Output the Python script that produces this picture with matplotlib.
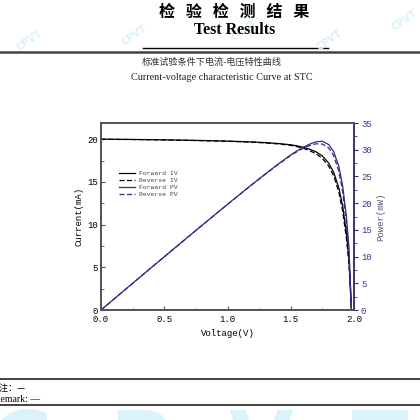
import matplotlib
matplotlib.use("Agg")
import matplotlib.pyplot as plt
from matplotlib.lines import Line2D
from matplotlib.ticker import MultipleLocator

# ---- data --------------------------------------------------------------
volt = [0.0, 0.2, 0.4, 0.6, 0.8, 1.0, 1.2, 1.3, 1.4, 1.5, 1.55, 1.6, 1.65,
        1.7, 1.75, 1.8, 1.84, 1.88, 1.91, 1.94, 1.96, 1.98]
i_fwd = [20.0, 19.98, 19.95, 19.9, 19.85, 19.78, 19.68, 19.6, 19.5, 19.35, 19.22,
         19.05, 18.82, 18.52, 18.05, 17.2, 16.1, 14.3, 12.2, 9.0, 6.0, 0.0]
i_rev = [20.0, 19.97, 19.94, 19.89, 19.83, 19.76, 19.65, 19.56, 19.45, 19.28, 19.13,
         18.93, 18.65, 18.3, 17.75, 16.85, 15.7, 13.8, 11.6, 8.4, 5.4, 0.0]
p_fwd = [0.0, 4.0, 7.98, 11.94, 15.88, 19.78, 23.62, 25.48, 27.3, 29.03, 29.79,
         30.48, 31.05, 31.48, 31.59, 30.96, 29.62, 26.88, 23.3, 17.46, 11.76, 0.0]
p_rev = [0.0, 3.99, 7.98, 11.93, 15.86, 19.76, 23.58, 25.43, 27.23, 28.92, 29.65,
         30.29, 30.77, 31.11, 31.06, 30.33, 28.89, 25.94, 22.16, 16.3, 10.58, 0.0]
labels = ["Forward IV", "Reverse IV", "Forward PV", "Reverse PV"]

BLUE = "#2c2c86"
GREY = "#555555"
MONO = "Liberation Mono"
CJK = ["Noto Sans CJK SC", "DejaVu Sans"]

fig = plt.figure(figsize=(4.2, 4.2), dpi=100)
W = H = 420.0
fx = lambda px: px / W
fy = lambda py: 1 - py / H

# ---- page header -----------------------------------------------------------
for txt, x, y, rot in [("CPVT", 30, 40, 35), ("CPVT", 135, 35, 35), ("CPVT", 245, 30, 35),
                       ("CPVT", 330, 40, 35), ("CPVT", 405, 20, 35)]:
    fig.text(fx(x), fy(y), txt, color="#dcf1fa", fontsize=7, rotation=rot,
             ha="center", va="center", fontweight="bold")
fig.text(fx(234), fy(12), "检   验   检   测   结   果", family=CJK, fontsize=11.5,
         fontweight="bold", ha="center", va="center")
fig.text(fx(235), fy(30), "Test Results", family="Liberation Serif", fontsize=11.5,
         fontweight="bold", ha="center", va="center")
fig.add_artist(Line2D([fx(143), fx(328)], [fy(48), fy(48)], color="black", lw=1))
fig.add_artist(Line2D([0, 1], [fy(52), fy(52)], color="#444444", lw=1.8))
fig.text(fx(212), fy(62), "标准试验条件下电流-电压特性曲线", family=CJK, fontsize=6.6,
         color="#333333", ha="center", va="center")
fig.text(fx(222), fy(78), "Current-voltage characteristic Curve at STC",
         family="Liberation Serif", fontsize=7.4, color="#222222", ha="center", va="center")

# ---- chart -----------------------------------------------------------------
ax = fig.add_axes([fx(101), fy(310), fx(354) - fx(101), fy(123) - fy(310)])
ax2 = ax.twinx()

l1, = ax.plot(volt, i_fwd, color="black", lw=0.9)
l2, = ax.plot(volt, i_rev, color="black", lw=0.9, ls=(0, (4, 2)))
l3, = ax2.plot(volt, p_fwd, color=BLUE, lw=0.9)
l4, = ax2.plot(volt, p_rev, color=BLUE, lw=0.9, ls=(0, (4, 2)))

ax.set_xlim(0, 2.0)
ax.set_ylim(0, 21.9)
ax2.set_ylim(0, 35)
ax.xaxis.set_major_locator(MultipleLocator(0.5))
ax.xaxis.set_minor_locator(MultipleLocator(0.25))
ax.yaxis.set_major_locator(MultipleLocator(5))
ax.yaxis.set_minor_locator(MultipleLocator(2.5))
ax2.yaxis.set_major_locator(MultipleLocator(5))
ax2.yaxis.set_minor_locator(MultipleLocator(2.5))
ax.xaxis.set_major_formatter(lambda v, p: f"{v:.1f}")

for a in (ax, ax2):
    for s in a.spines.values():
        s.set_color(GREY)
        s.set_linewidth(1.3)
ax2.spines["right"].set_color(BLUE)
ax2.spines["right"].set_linewidth(1.1)

ax.tick_params(axis="both", which="both", direction="in", color=GREY,
               labelsize=6.5, pad=2)
ax.tick_params(axis="x", pad=3.5)
ax.tick_params(which="major", length=3)
ax.tick_params(which="minor", length=1.8)
ax.tick_params(axis="x", top=False)
ax2.tick_params(axis="y", which="both", direction="out", color=BLUE,
                labelcolor="#3a3a88", labelsize=6.5, pad=2)
ax2.tick_params(which="major", length=3)
ax2.tick_params(which="minor", length=1.8)
for t in ax.get_xticklabels() + ax.get_yticklabels() + ax2.get_yticklabels():
    t.set_family(MONO)

ax.set_xlabel("Voltage(V)", family=MONO, fontsize=6.5, labelpad=4)
ax.set_ylabel("Current(mA)", family=MONO, fontsize=6.5, labelpad=3)
ax2.set_ylabel("Power(mW)", family=MONO, fontsize=6.5, color="#555577", labelpad=3)

leg = ax.legend([l1, l2, l3, l4], labels, loc="upper left", bbox_to_anchor=(0.06, 0.76),
                frameon=False, prop={"family": MONO, "size": 4.6}, handlelength=2.6,
                handletextpad=0.5, labelspacing=0.25, borderaxespad=0)
for t in leg.get_texts():
    t.set_color("#444444")

# ---- footer ----------------------------------------------------------------
fig.add_artist(Line2D([0, 1], [fy(379), fy(379)], color="#222222", lw=1.2))
fig.text(fx(-9), fy(388), "备注：—", family=CJK, fontsize=6.5, ha="left", va="center")
fig.text(fx(-6), fy(399), "Remark: —", family="Liberation Serif", fontsize=7,
         ha="left", va="center")
fig.add_artist(Line2D([0, 1], [fy(405), fy(405)], color="#222222", lw=1.2))
fig.text(fx(200), fy(448), "C  P  V  T", color="#dcf2fb", fontsize=60, fontweight="bold",
         ha="center", va="center")

fig.savefig("out.png", dpi=100)
